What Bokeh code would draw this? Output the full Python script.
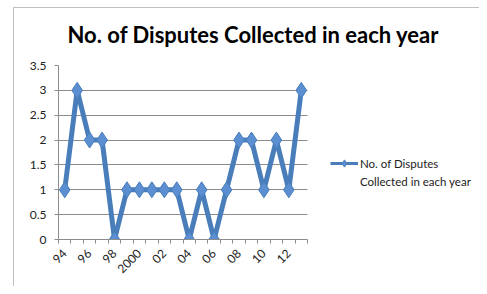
import math
from bokeh.plotting import figure
from bokeh.layouts import column
from bokeh.models import Range1d, FixedTicker, Legend, LegendItem, Title, Grid, Div
from bokeh.embed import file_html
from bokeh.resources import INLINE

years = ["94", "95", "96", "97", "98", "99", "2000", "01", "02", "03",
         "04", "05", "06", "07", "08", "09", "10", "11", "12", "13"]
disputes = [1, 3, 2, 2, 0, 1, 1, 1, 1, 1, 0, 1, 0, 1, 2, 2, 1, 2, 1, 3]
y_ticks = [0, 0.5, 1, 1.5, 2, 2.5, 3, 3.5]
y_labels = ["0", "0.5", "1", "1.5", "2", "2.5", "3", "3.5"]
legend_lines = ["No. of Disputes", "Collected in each year"]
title_text = "No. of Disputes Collected in each year"

FONT = "Lato"
BLUE = "#4A7EBB"
GRID = "#8C8C8C"

W, H = 479, 286
LEFT, TOP, BOTTOM = 58, 65, 47
CAT_W = 12.45  # pixel width of one category band

n = len(years)
xs = list(range(n))
shown = xs[::2]
frame_w = W - LEFT
x_end = -0.5 + frame_w / CAT_W

p = figure(width=W, height=H, output_backend="svg", toolbar_location=None,
           x_range=Range1d(-0.5, x_end), y_range=Range1d(0, 3.5),
           min_border_left=LEFT, min_border_right=0, min_border_top=TOP,
           min_border_bottom=BOTTOM)
p.outline_line_color = None
p.background_fill_alpha = 0
p.border_fill_alpha = 0
p.margin = (-H, 0, 0, 0)

p.title = Title(text=title_text, align="left", offset=9, standoff=35, text_font=FONT,
                text_font_size="22px", text_font_style="bold", text_color="#000000")

# x axis
p.xaxis.bounds = (-0.5, n - 0.5)
p.xaxis.ticker = FixedTicker(ticks=shown, minor_ticks=[i - 0.5 for i in range(n + 1)])
p.xaxis.major_label_overrides = {i: years[i] for i in shown}
p.xaxis.major_label_orientation = math.pi / 4
p.xaxis.major_tick_line_color = None
p.xaxis.minor_tick_line_color = GRID
p.xaxis.minor_tick_in = 0
p.xaxis.minor_tick_out = 4
p.xaxis.axis_line_color = GRID
p.xaxis.major_label_text_font = FONT
p.xaxis.major_label_text_font_size = "12px"
p.xaxis.major_label_text_color = "#222222"
p.xaxis.major_label_standoff = 6
p.xgrid.visible = False

# y axis
p.yaxis.ticker = FixedTicker(ticks=y_ticks)
p.yaxis.major_label_overrides = {v: l for v, l in zip(y_ticks, y_labels)}
p.yaxis.major_tick_line_color = GRID
p.yaxis.major_tick_in = 0
p.yaxis.major_tick_out = 4
p.yaxis.minor_tick_line_color = None
p.yaxis.axis_line_color = GRID
p.yaxis.major_label_text_font = FONT
p.yaxis.major_label_text_font_size = "12px"
p.yaxis.major_label_text_color = "#222222"
p.yaxis.major_label_standoff = 8

if "cross_bounds" in Grid.properties():
    p.ygrid.ticker = FixedTicker(ticks=y_ticks)
    p.ygrid.grid_line_color = GRID
    p.ygrid.cross_bounds = (-0.5, n - 0.5)
else:
    p.ygrid.visible = False
    p.segment(x0=[-0.5] * len(y_ticks), x1=[n - 0.5] * len(y_ticks),
              y0=y_ticks, y1=y_ticks, line_color=GRID, line_width=1)

p.line(xs, disputes, line_color=BLUE, line_width=5, line_join="round")
p.scatter(xs, disputes, marker="diamond", size=16, fill_color="#5B8FD1",
          line_color=BLUE, line_width=1)

# legend-only renderers (smaller glyphs)
lg_line = p.line(xs, disputes, line_color=BLUE, line_width=3, visible=False)
lg_mark = p.scatter(xs, disputes, marker="diamond", size=10, fill_color="#5B8FD1",
                    line_color=BLUE, visible=False)
lg_blank = p.line(xs, disputes, line_alpha=0, visible=False)

legend = Legend(items=[LegendItem(label=legend_lines[0], renderers=[lg_line, lg_mark]),
                       LegendItem(label=legend_lines[1], renderers=[lg_blank])],
                location=(272, 49), orientation="vertical",
                border_line_color=None, background_fill_alpha=0,
                inactive_fill_alpha=0, padding=0, margin=0, spacing=0,
                glyph_width=28, glyph_height=18, label_standoff=2,
                label_text_font=FONT, label_text_font_size="11.5px",
                label_text_color="#222222", label_height=18)
p.add_layout(legend, "center")

# chart-area border (left and top edges), drawn underneath the transparent plot
frame_box = Div(text="", width=W - 13, height=H - 7, margin=(7, 0, 0, 13),
                styles={"border-left": "1px solid #BFBFBF",
                        "border-top": "1px solid #BFBFBF",
                        "background-color": "white"})

layout = column(frame_box, p, spacing=0)
open("out.html", "w").write(file_html(layout, INLINE))
